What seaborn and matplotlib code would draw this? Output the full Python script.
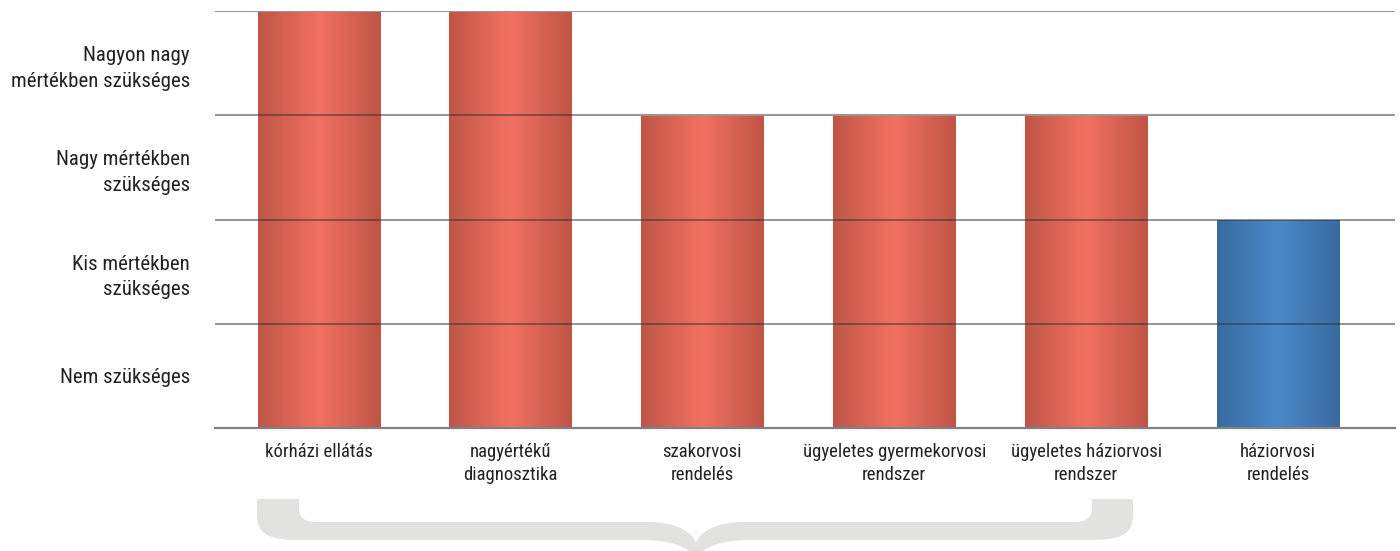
import numpy as np
import pandas as pd
import matplotlib.pyplot as plt
import seaborn as sns
from matplotlib.path import Path
from matplotlib.patches import PathPatch
from matplotlib.colors import LinearSegmentedColormap
from matplotlib.transforms import Affine2D

categories = ['kórházi ellátás', 'nagyértékű\ndiagnosztika', 'szakorvosi\nrendelés',
              'ügyeletes gyermekorvosi\nrendszer', 'ügyeletes háziorvosi\nrendszer',
              'háziorvosi\nrendelés']
values = [4, 4, 3, 3, 3, 2]
groups = ['piros', 'piros', 'piros', 'piros', 'piros', 'kek']
level_labels = ['Nem szükséges', 'Kis mértékben\nszükséges', 'Nagy mértékben\nszükséges',
                'Nagyon nagy\nmértékben szükséges']

df = pd.DataFrame({'kategoria': categories, 'ertek': values, 'csoport': groups})

sns.set_style('white')
plt.rcParams['font.family'] = ['Roboto Condensed', 'DejaVu Sans']
plt.rcParams['font.stretch'] = 'condensed'

fig = plt.figure(figsize=(14, 5.51), dpi=100)
ax = fig.add_axes([215 / 1400, 1 - 428 / 551, 1180 / 1400, 417 / 551])

sns.barplot(data=df, x='kategoria', y='ertek', hue='csoport',
            palette={'piros': '#E0685A', 'kek': '#4580BF'},
            dodge=False, width=0.636, legend=False, ax=ax)

# gradient fill for bars
cmaps = {
    'piros': LinearSegmentedColormap.from_list('r', ['#BF5648', '#F27161', '#BE5547']),
    'kek': LinearSegmentedColormap.from_list('b', ['#396BA0', '#4A89C9', '#396B9F']),
}
grad = np.linspace(0, 1, 256).reshape(1, -1)
for patch, grp in zip(ax.patches, groups):
    x0, y0 = patch.get_x(), patch.get_y()
    w, h = patch.get_width(), patch.get_height()
    ax.imshow(grad, cmap=cmaps[grp], aspect='auto', extent=[x0, x0 + w, y0, y0 + h * 0.997],
              zorder=1, interpolation='bicubic')
    patch.set_visible(False)

ax.set_xlim(-0.54, 5.61)
ax.set_ylim(0, 4)

ax.set_yticks([1, 2, 3, 4])
ax.set_yticklabels([])
ax.set_yticks([0.5, 1.5, 2.5, 3.5], minor=True)
ax.set_yticklabels(level_labels, minor=True, fontsize=15, color='#222222', ha='right',
                   linespacing=1.45)
ax.tick_params(axis='y', which='both', length=0, pad=18)
ax.set_axisbelow(False)
ax.grid(axis='y', which='major', color='#303030', alpha=0.6, linewidth=1.2)
ax.grid(axis='x', visible=False)

ax.set_xlabel('')
ax.set_ylabel('')
ax.tick_params(axis='x', length=0, pad=11, labelsize=13.5, labelcolor='#222222')
for lbl in ax.get_xticklabels():
    lbl.set_linespacing(1.35)

for side in ['top', 'right', 'left']:
    ax.spines[side].set_visible(False)
ax.spines['bottom'].set_color('#7f8088')
ax.spines['bottom'].set_linewidth(1.6)

# curly brace below the first five bars
px = Affine2D().scale(1 / 1400, -1 / 551).translate(0, 1) + fig.transFigure
verts = [
    (257, 499), (257, 515),
    (257, 535), (270, 540), (300, 540),
    (640, 540),
    (670, 540), (690, 546), (696, 560),
    (702, 546), (722, 540), (752, 540),
    (1090, 540),
    (1120, 540), (1133, 535), (1133, 515),
    (1133, 499), (1092, 499), (1092, 508),
    (1092, 518), (1085, 522), (1075, 522),
    (745, 522),
    (715, 522), (700, 532), (696, 543),
    (692, 532), (677, 522), (647, 522),
    (315, 522),
    (305, 522), (299, 518), (299, 508),
    (299, 499), (257, 499),
]
codes = [Path.MOVETO, Path.LINETO,
         Path.CURVE4, Path.CURVE4, Path.CURVE4,
         Path.LINETO,
         Path.CURVE4, Path.CURVE4, Path.CURVE4,
         Path.CURVE4, Path.CURVE4, Path.CURVE4,
         Path.LINETO,
         Path.CURVE4, Path.CURVE4, Path.CURVE4,
         Path.LINETO, Path.LINETO, Path.LINETO,
         Path.CURVE4, Path.CURVE4, Path.CURVE4,
         Path.LINETO,
         Path.CURVE4, Path.CURVE4, Path.CURVE4,
         Path.CURVE4, Path.CURVE4, Path.CURVE4,
         Path.LINETO,
         Path.CURVE4, Path.CURVE4, Path.CURVE4,
         Path.LINETO, Path.CLOSEPOLY]
fig.patches.append(PathPatch(Path(verts, codes), transform=px, facecolor='#E2E2E1',
                             edgecolor='none'))

plt.savefig('out.png', dpi=100)
plt.close()
